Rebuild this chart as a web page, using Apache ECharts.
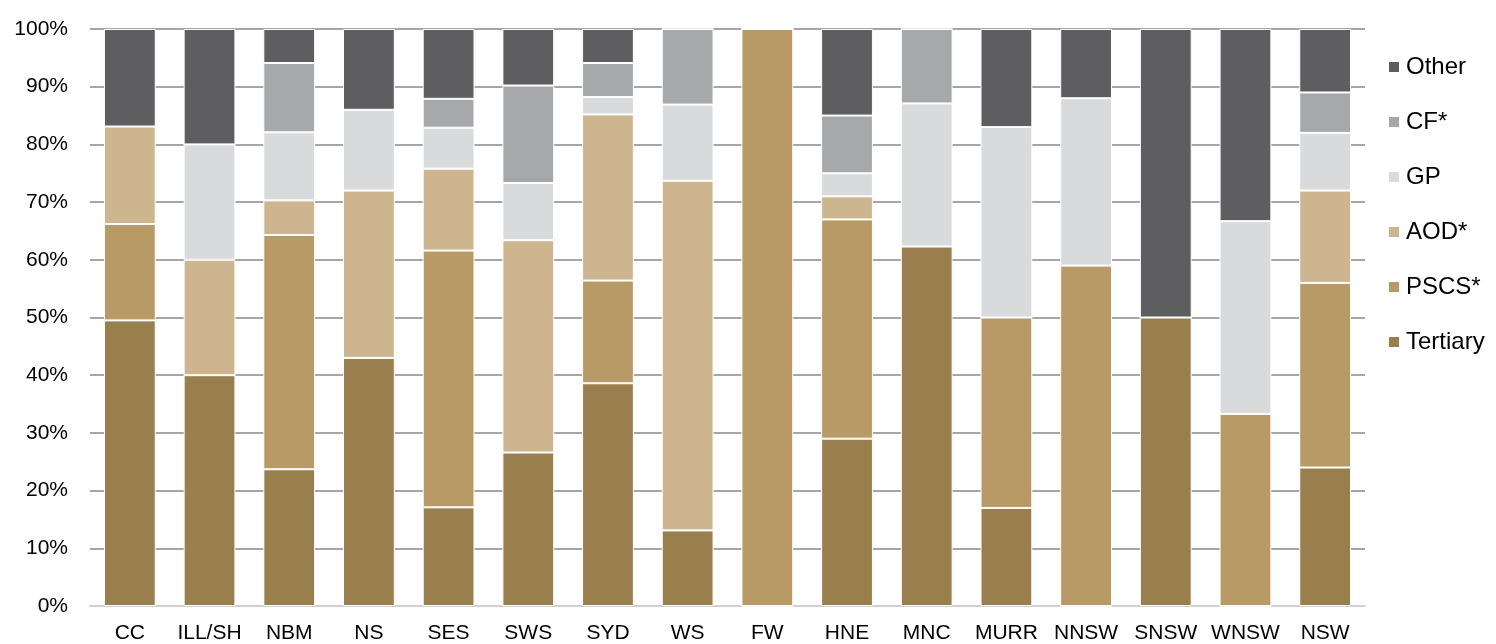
<!DOCTYPE html>
<html><head><meta charset="utf-8">
<script src="https://cdn.jsdelivr.net/npm/echarts@6/dist/echarts.min.js"></script>
<style>html,body{margin:0;padding:0;background:#fff}#c{width:1496px;height:644px}</style>
</head><body><div id="c"></div>
<script>
const categories = ['CC','ILL/SH','NBM','NS','SES','SWS','SYD','WS','FW','HNE','MNC','MURR','NNSW','SNSW','WNSW','NSW'];
const tertiary = [49.5, 40, 23.7, 43, 17.1, 26.6, 38.6, 13.1, 0, 29, 62.3, 17, 0, 50, 0, 24];
const pscs     = [16.7, 0, 40.6, 0, 44.5, 0, 17.8, 0, 100, 38, 0, 33, 59, 0, 33.3, 32];
const aod      = [16.9, 20, 6, 29, 14.2, 36.8, 28.8, 60.6, 0, 4, 0, 0, 0, 0, 0, 16];
const gp       = [0, 20, 11.8, 14, 7.1, 9.9, 3, 13.2, 0, 4, 24.8, 33, 29, 0, 33.4, 10];
const cf       = [0, 0, 12, 0, 5, 16.9, 5.9, 13.1, 0, 10, 12.9, 0, 0, 0, 0, 7];
const other    = [16.9, 20, 5.9, 14, 12.1, 9.8, 5.9, 0, 0, 15, 0, 17, 12, 50, 33.3, 11];
const yTicks = ['0%','10%','20%','30%','40%','50%','60%','70%','80%','90%','100%'];

const seriesDefs = [
  ['Tertiary', tertiary, '#9A7F4E'],
  ['PSCS*', pscs, '#B89A66'],
  ['AOD*', aod, '#CDB68F'],
  ['GP', gp, '#D9DADB'],
  ['CF*', cf, '#A7A8AA'],
  ['Other', other, '#5E5E60']
];
const font = 'Liberation Sans, Arial, sans-serif';
const chart = echarts.init(document.getElementById('c'), null, {renderer:'canvas'});
chart.setOption({
  animation:false,
  grid:{left:90,right:131,top:29,bottom:38,containLabel:false},
  legend:{
    orient:'vertical', left:1382, top:50, itemWidth:12, itemHeight:12, itemGap:31,
    icon:'rect',
    data:['Other','CF*','GP','AOD*','PSCS*','Tertiary'],
    textStyle:{fontFamily:font,fontSize:24,lineHeight:24,color:'#000',padding:[0,0,0,1]}
  },
  xAxis:{type:'category',data:categories,
    axisLine:{lineStyle:{color:'#D0D0D0',width:2}},
    axisTick:{show:false},
    axisLabel:{fontFamily:font,fontSize:21,color:'#000',margin:17,interval:0}
  },
  yAxis:{type:'value',min:0,max:100,interval:10,
    axisLine:{show:false},axisTick:{show:false},
    splitLine:{lineStyle:{color:'#A6A6A8',width:2}},
    axisLabel:{fontFamily:font,fontSize:21,color:'#000',margin:22,
      formatter:(v)=>yTicks[Math.round(v/10)]}
  },
  series:seriesDefs.map(([name,data,color])=>({
    name,type:'bar',stack:'s',data,barCategoryGap:'35%',
    itemStyle:{color,borderColor:'#fff',borderWidth:1}
  }))
});
</script></body></html>
